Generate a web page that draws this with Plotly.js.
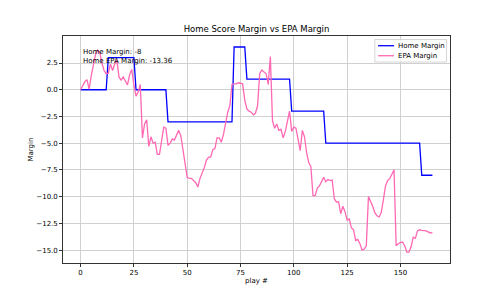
<!DOCTYPE html>
<html>
<head>
<meta charset="utf-8">
<script src="https://cdn.plot.ly/plotly-3.0.1.min.js"></script>
<style>html,body{margin:0;padding:0;background:#fff;}#chart{width:500px;height:300px;}</style>
</head>
<body>
<div id="chart"></div>
<script>
const homeMargin = [
  0,0,0,0,0,0,0,0,0,0,0,0,0,
  3,3,3,3,3,3,3,3,3,3,3,3,3,
  0,0,0,0,0,0,0,0,0,0,0,0,0,0,0,
  -3,-3,-3,-3,-3,-3,-3,-3,-3,-3,-3,-3,-3,-3,-3,-3,-3,-3,-3,-3,-3,-3,-3,-3,-3,-3,-3,-3,-3,-3,-3,
  4,4,4,4,4,4,
  1,1,1,1,1,1,1,1,1,1,1,1,1,1,1,1,1,1,1,1,1,
  -2,-2,-2,-2,-2,-2,-2,-2,-2,-2,-2,-2,-2,-2,-2,-2,
  -5,-5,-5,-5,-5,-5,-5,-5,-5,-5,-5,-5,-5,-5,-5,-5,-5,-5,-5,-5,-5,-5,-5,-5,-5,-5,-5,-5,-5,-5,-5,-5,-5,-5,-5,-5,-5,-5,-5,-5,-5,-5,-5,-5,-5,
  -8,-8,-8,-8,-8,-8
];
const epaMargin = [
  0, 0.4, 0.75, 0.95, 0.05, 1.3, 2.4, 3.3, 3.7, 3.5,
  2.5, 1.8, 1.5, 1.55, 2.4, 1.8, 2.4, 2.8, 1.2, 0.9,
  1.2, 0.8, 0.45, 1.4, 1.9, 0.4, -0.6, -0.2, 0.5, -4.5,
  -3.2, -2.8, -5.3, -4.4, -5.0, -4.9, -6.05, -6.05, -4.5, -3.5,
  -3.6, -5.2, -5.0, -4.6, -4.7, -4.2, -3.8, -4.3, -5.6, -7.1,
  -8.2, -8.3, -8.3, -8.5, -8.7, -9.1, -8.3, -7.8, -7.3, -6.6,
  -6.3, -6.3, -5.6, -5.5, -4.5, -4.5, -4.9, -4.2, -3.0, -2.1,
  -1.5, 0.5, 0.55, 0.55, 0.65, 0.6, 0.55, -1.0, -1.8, -2.0,
  -2.1, -2.35, -2.2, -1.5, 1.5, 1.85, 1.7, 1.5, 0.5, 3.1,
  -2.9, -3.6, -3.2, -3.8, -3.7, -4.5, -3.9, -3.0, -2.0, -3.9,
  -3.5, -3.6, -4.7, -5.7, -3.8, -4.4, -5.9, -6.8, -7.2, -9.9,
  -9.9, -9.2, -9.0, -8.6, -8.2, -8.6, -8.4, -8.5, -8.45, -10.2,
  -10.5, -10.5, -11.6, -10.9, -11.4, -12.2, -12.1, -12.9, -13.1, -14.1,
  -14.0, -14.4, -15.0, -14.9, -14.6, -10.0, -10.4, -10.9, -11.5, -11.8,
  -11.9, -11.5, -10.3, -9.0, -8.5, -8.3, -7.9, -7.5, -14.6, -14.4,
  -14.3, -14.25, -14.6, -15.2, -15.2, -14.7, -13.8, -13.9, -13.2, -13.1,
  -13.15, -13.15, -13.2, -13.3, -13.4, -13.36
];
const plays = epaMargin.map((_, i) => i);
const xTicks = [0, 25, 50, 75, 100, 125, 150];
const yTicks = [2.5, 0, -2.5, -5, -7.5, -10, -12.5, -15];
const seriesNames = ['Home Margin', 'EPA Margin'];
const seriesColors = ['#0000ff', '#ff69b4'];
const finalHome = homeMargin[homeMargin.length - 1];
const finalEpa = epaMargin[epaMargin.length - 1];

const font = 'DejaVu Sans, sans-serif';
const traces = [
  {x: plays, y: homeMargin, type: 'scatter', mode: 'lines', name: seriesNames[0],
   line: {color: seriesColors[0], width: 1.3}},
  {x: plays, y: epaMargin, type: 'scatter', mode: 'lines', name: seriesNames[1],
   line: {color: seriesColors[1], width: 1.3}}
];
const axisCommon = {
  showline: true, mirror: true, linecolor: '#000', linewidth: 0.8,
  ticks: 'outside', ticklen: 3, tickwidth: 0.8, tickcolor: '#000',
  showgrid: true, gridcolor: '#d0d0d0', gridwidth: 1,
  zeroline: false, tickfont: {family: font, size: 7, color: '#000'}
};

// legend (matplotlib style) drawn in paper coordinates
const legRowsY = [0.9572, 0.9131];
const legShapes = [{
  type: 'rect', xref: 'paper', yref: 'paper', x0: 0.8058, x1: 0.9910, y0: 0.8853, y1: 0.9846,
  fillcolor: 'rgba(255,255,255,0.8)', line: {color: '#cccccc', width: 0.8}, layer: 'above'
}];
const legAnn = [];
seriesNames.forEach((n, i) => {
  legShapes.push({type: 'line', xref: 'paper', yref: 'paper', x0: 0.8141, x1: 0.8554,
    y0: legRowsY[i], y1: legRowsY[i], line: {color: seriesColors[i], width: 1.3}, layer: 'above'});
  legAnn.push({xref: 'paper', yref: 'paper', x: 0.8632, y: legRowsY[i], xanchor: 'left', yanchor: 'middle',
    showarrow: false, borderpad: 0, text: n, font: {family: font, size: 7, color: '#000'}});
});

const layout = {
  width: 500, height: 300,
  margin: {l: 63, r: 50, t: 36, b: 37, pad: 0},
  paper_bgcolor: '#fff', plot_bgcolor: '#fff',
  font: {family: font, size: 7, color: '#000'},
  title: {text: 'Home Score Margin vs EPA Margin', font: {family: font, size: 8.5, color: '#000'},
          x: 0.5, xref: 'paper', xanchor: 'center', y: 1 - 29/300, yref: 'container', yanchor: 'middle'},
  xaxis: Object.assign({}, axisCommon, {
    range: [-8.25, 173.25], tickvals: xTicks, ticktext: xTicks.map(String),
    title: {text: 'play #', font: {family: font, size: 7, color: '#000'}, standoff: 1}
  }),
  yaxis: Object.assign({}, axisCommon, {
    range: [-16.21, 5.03], tickvals: yTicks, tickformat: '.1f',
    title: {text: 'Margin', font: {family: font, size: 7, color: '#000'}, standoff: 1}
  }),
  showlegend: false,
  shapes: legShapes,
  annotations: [{
    xref: 'paper', yref: 'paper', x: 0.05, y: 0.95, xanchor: 'left', yanchor: 'top',
    align: 'left', showarrow: false, borderpad: 0,
    text: 'Home Margin: ' + finalHome + '<br>Home EPA Margin: ' + finalEpa,
    font: {family: font, size: 7, color: '#000'}
  }].concat(legAnn)
};
Plotly.newPlot('chart', traces, layout, {displayModeBar: false, staticPlot: true});
</script>
</body>
</html>
